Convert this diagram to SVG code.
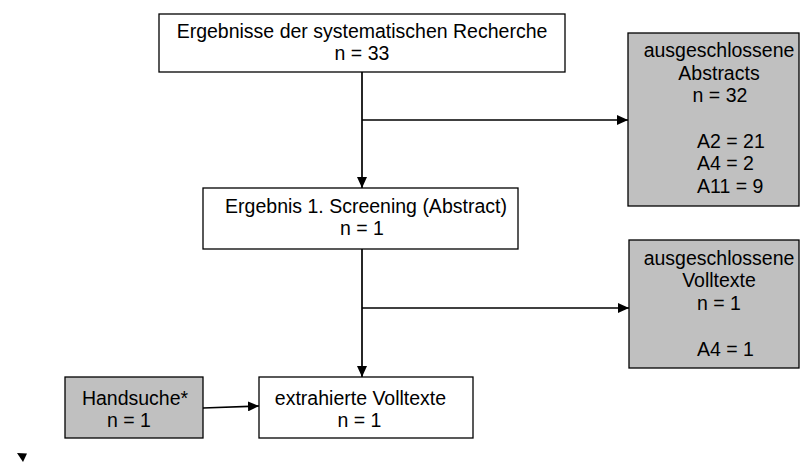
<svg xmlns="http://www.w3.org/2000/svg" width="802" height="463" viewBox="0 0 802 463">
<style>
  .box { fill: #FFFFFF; stroke: #000; stroke-width: 1.3; }
  .gray { fill: #C0C0C0; stroke: #000; stroke-width: 1.3; }
  text { font-family: "Liberation Sans", Arial, sans-serif; font-size: 19.5px; fill: #000; }
  .c { text-anchor: middle; }
  .conn { stroke: #000; stroke-width: 1.7; fill: none; }
</style>
<defs>
  <marker id="ah" viewBox="0 0 11 10" refX="11" refY="5" markerWidth="11" markerHeight="10" markerUnits="userSpaceOnUse" orient="auto">
    <path d="M0,0 L11,5 L0,10 Z" fill="#000"/>
  </marker>
</defs>
<rect width="802" height="463" fill="#FFFFFF"/>

<g id="node-recherche">
  <rect class="box" x="159" y="14" width="406" height="58"/>
  <text class="c" x="362" y="38">Ergebnisse der systematischen Recherche</text>
  <text class="c" x="362" y="60">n = 33</text>
</g>

<g id="node-ausgeschlossene-abstracts">
  <rect class="gray" x="628" y="33" width="171" height="173"/>
  <text class="c" x="719" y="57">ausgeschlossene</text>
  <text class="c" x="719" y="80">Abstracts</text>
  <text class="c" x="720" y="102">n = 32</text>
  <text x="697" y="148">A2 = 21</text>
  <text x="697" y="170">A4 = 2</text>
  <text x="697" y="193">A11 = 9</text>
</g>

<g id="node-screening">
  <rect class="box" x="203" y="188" width="315" height="61"/>
  <text class="c" x="366" y="213">Ergebnis 1. Screening (Abstract)</text>
  <text class="c" x="362" y="235">n = 1</text>
</g>

<g id="node-ausgeschlossene-volltexte">
  <rect class="gray" x="629" y="240" width="170" height="128"/>
  <text class="c" x="719" y="265">ausgeschlossene</text>
  <text class="c" x="719" y="287">Volltexte</text>
  <text class="c" x="719" y="310">n = 1</text>
  <text x="697" y="356">A4 = 1</text>
</g>

<g id="node-handsuche">
  <rect class="gray" x="65" y="377" width="138" height="61"/>
  <text class="c" x="135" y="405">Handsuche*</text>
  <text class="c" x="129" y="427">n = 1</text>
</g>

<g id="node-extrahiert">
  <rect class="box" x="259" y="377" width="214" height="61"/>
  <text class="c" x="360.5" y="405">extrahierte Volltexte</text>
  <text class="c" x="359.5" y="427">n = 1</text>
</g>

<g id="connectors">
  <line class="conn" x1="362" y1="72" x2="362" y2="188" marker-end="url(#ah)"/>
  <line class="conn" x1="362" y1="120" x2="628" y2="120" marker-end="url(#ah)"/>
  <line class="conn" x1="362" y1="249" x2="362" y2="377" marker-end="url(#ah)"/>
  <line class="conn" x1="362" y1="308" x2="629" y2="308" marker-end="url(#ah)"/>
  <line class="conn" x1="203" y1="408" x2="259" y2="406" marker-end="url(#ah)"/>
  <polygon points="17,453 27,453.5 23,462" fill="#000"/>
</g>
</svg>
